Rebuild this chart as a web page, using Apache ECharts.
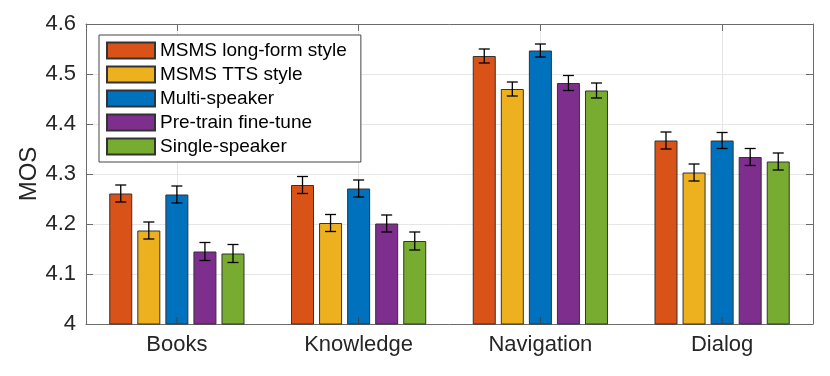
<!DOCTYPE html>
<html>
<head>
<meta charset="utf-8">
<script src="https://cdn.jsdelivr.net/npm/echarts@6/dist/echarts.min.js"></script>
<style>html,body{margin:0;padding:0;background:#fff}#c{width:830px;height:376px}</style>
</head>
<body>
<div id="c"></div>
<script>
var categories = ['Books', 'Knowledge', 'Navigation', 'Dialog'];
var seriesNames = ['MSMS long-form style', 'MSMS TTS style', 'Multi-speaker', 'Pre-train fine-tune', 'Single-speaker'];
var longForm = [4.261, 4.278, 4.536, 4.367];
var ttsStyle = [4.187, 4.202, 4.470, 4.303];
var multiSpeaker = [4.259, 4.271, 4.547, 4.367];
var pretrain = [4.145, 4.201, 4.482, 4.334];
var singleSpeaker = [4.141, 4.166, 4.467, 4.325];
var errLongForm = [0.017, 0.017, 0.014, 0.017];
var errTtsStyle = [0.017, 0.017, 0.014, 0.017];
var errMultiSpeaker = [0.017, 0.017, 0.013, 0.016];
var errPretrain = [0.018, 0.017, 0.015, 0.017];
var errSingleSpeaker = [0.018, 0.018, 0.015, 0.017];
var yTicks = [4, 4.1, 4.2, 4.3, 4.4, 4.5, 4.6];

var colors = ['#D95319', '#EDB120', '#0072BD', '#7E2F8E', '#77AC30'];
var values = [longForm, ttsStyle, multiSpeaker, pretrain, singleSpeaker];
var errs = [errLongForm, errTtsStyle, errMultiSpeaker, errPretrain, errSingleSpeaker];

var FONT = '"Liberation Sans", Arial, Helvetica, sans-serif';
var TXT = '#262626';
var AX = '#6b6b6b';
var BAR_W = 23;
var BAR_GAP = 0.22;

var series = [];
values.forEach(function (vals, i) {
  series.push({
    name: seriesNames[i],
    type: 'bar',
    data: vals,
    barWidth: BAR_W,
    barGap: (BAR_GAP * 100) + '%',
    itemStyle: { color: colors[i], borderColor: '#333', borderWidth: 1 },
    z: 2
  });
});
values.forEach(function (vals, i) {
  var data = vals.map(function (v, k) { return [k, v, errs[i][k]]; });
  series.push({
    type: 'custom',
    name: 'err' + i,
    z: 5,
    data: data,
    renderItem: function (params, api) {
      var k = api.value(0), v = api.value(1), e = api.value(2);
      var off = (i - 2) * BAR_W * (1 + BAR_GAP);
      var hi = api.coord([k, v + e]);
      var lo = api.coord([k, v - e]);
      var base = api.coord([k, yTicks[0]]);
      var x = hi[0] + off;
      var cw = 5.5;
      var st = { stroke: '#000', lineWidth: 1.3 };
      var children = [
        { type: 'line', shape: { x1: x, y1: hi[1], x2: x, y2: lo[1] }, style: st },
        { type: 'line', shape: { x1: x - cw, y1: hi[1], x2: x + cw, y2: hi[1] }, style: st },
        { type: 'line', shape: { x1: x - cw, y1: lo[1], x2: x + cw, y2: lo[1] }, style: st }
      ];
      if (i === 2) {
        children.push({ type: 'line', shape: { x1: base[0], y1: base[1], x2: base[0], y2: base[1] - 7 }, style: { stroke: '#444', lineWidth: 1 } });
      }
      return { type: 'group', children: children };
    }
  });
});

var yMin = yTicks[0], yMax = yTicks[yTicks.length - 1], yInt = 0.1;

var chart = echarts.init(document.getElementById('c'), null, { renderer: 'canvas' });
chart.setOption({
  animation: false,
  backgroundColor: '#fff',
  textStyle: { fontFamily: FONT },
  grid: { left: 86, right: 17, top: 24, bottom: 52, containLabel: false },
  legend: {
    data: seriesNames,
    orient: 'vertical',
    left: 99,
    top: 35,
    itemWidth: 48,
    itemHeight: 16,
    itemGap: 5,
    padding: [6, 14, 6, 7],
    borderColor: '#444',
    borderWidth: 1,
    backgroundColor: '#fff',
    icon: 'rect',
    textStyle: { fontFamily: FONT, fontSize: 19, color: '#000', lineHeight: 16 },
    z: 10
  },
  xAxis: [
    {
      type: 'category',
      data: categories,
      position: 'bottom',
      axisLine: { show: true, lineStyle: { color: AX, width: 1 } },
      axisTick: { show: true, inside: true, alignWithLabel: true, length: 7, lineStyle: { color: AX } },
      axisLabel: { fontFamily: FONT, fontSize: 22, color: TXT, margin: 10 },
      splitLine: { show: true, alignWithLabel: true, lineStyle: { color: '#e6e6e6', width: 1 } }
    },
    {
      type: 'category',
      data: categories,
      position: 'top',
      axisLine: { show: true, onZero: false, lineStyle: { color: AX, width: 1 } },
      axisTick: { show: true, inside: true, alignWithLabel: true, length: 7, lineStyle: { color: AX } },
      axisLabel: { show: false },
      splitLine: { show: false }
    }
  ],
  yAxis: [
    {
      type: 'value',
      min: yMin, max: yMax, interval: yInt,
      name: 'MOS',
      nameLocation: 'middle',
      nameGap: 45,
      nameMoveOverlap: false,
      nameTextStyle: { fontFamily: FONT, fontSize: 24, color: TXT },
      axisLine: { show: true, lineStyle: { color: AX, width: 1 } },
      axisTick: { show: true, inside: true, length: 7, lineStyle: { color: AX } },
      axisLabel: {
        fontFamily: FONT, fontSize: 22, color: TXT, margin: 10,
        formatter: function (v) { return String(Number(v.toFixed(1))); }
      },
      splitLine: { show: true, lineStyle: { color: '#e6e6e6', width: 1 } }
    },
    {
      type: 'value',
      min: yMin, max: yMax, interval: yInt,
      position: 'right',
      axisLine: { show: true, onZero: false, lineStyle: { color: AX, width: 1 } },
      axisTick: { show: true, inside: true, length: 7, lineStyle: { color: AX } },
      axisLabel: { show: false },
      splitLine: { show: false }
    }
  ],
  series: series
});
</script>
</body>
</html>
